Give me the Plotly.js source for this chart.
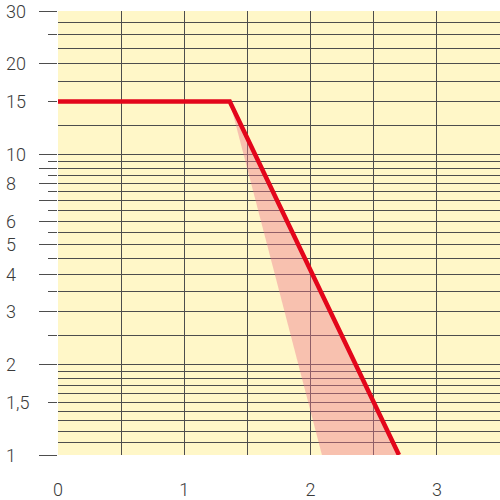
<!DOCTYPE html>
<html>
<head>
<meta charset="utf-8">
<script src="https://cdn.plot.ly/plotly-3.0.1.min.js"></script>
<style>html,body{margin:0;padding:0;background:#fff;}#chart{width:500px;height:500px;}</style>
</head>
<body>
<div id="chart"></div>
<script>
// ---- data ----
const lineX = [0, 1.36, 2.7];
const lineY = [15, 15, 1];
const bandX = [1.36, 2.09, 2.7];
const bandY = [15, 1, 1];

const xGridVals = [0, 0.5, 1, 1.5, 2, 2.5, 3, 3.5];
const xTickText = ['0', '', '1', '', '2', '', '3', ''];

const yGridVals = [1, 1.1, 1.2, 1.3, 1.4, 1.5, 1.6, 1.7, 1.8, 1.9, 2, 2.5, 3, 3.5, 4, 4.5, 5, 5.5, 6, 6.5, 7, 7.5, 8, 8.5, 9, 9.5, 10, 12.5, 15, 17.5, 20, 22.5, 25, 27.5, 30];
const yLongTicks = [1, 2, 3, 4, 5, 6, 7, 8, 9, 10, 20, 30];
const yShortTicks = [1.5, 2.5, 3.5, 4.5, 5.5, 6.5, 7.5, 8.5, 9.5, 15, 25];
const yLabelVals = [1, 1.5, 2, 3, 4, 5, 6, 8, 10, 15, 20, 30];
const yLabelText = ['1', '1,5', '2', '3', '4', '5', '6', '8', '10', '15', '20', '30'];

// ---- style ----
const gridColor = '#4d4d4d';
const textColor = '#3a3a3a';
const fontFam = 'Roboto, "Liberation Sans", Arial, sans-serif';

const traces = [
  {
    x: bandX, y: bandY, type: 'scatter', mode: 'lines',
    fill: 'toself', fillcolor: 'rgba(238,120,140,0.42)',
    line: {width: 0}, hoverinfo: 'skip', xaxis: 'x', yaxis: 'y'
  },
  {
    x: lineX, y: lineY, type: 'scatter', mode: 'lines',
    line: {color: '#e3061b', width: 4.5}, hoverinfo: 'skip', xaxis: 'x', yaxis: 'y2'
  }
];

const yRange = [Math.log10(yGridVals[0]), Math.log10(yGridVals[yGridVals.length - 1])];

const annotations = yLabelVals.map((v, i) => ({
  xref: 'paper', yref: 'y', x: 0, y: Math.log10(v),
  xanchor: 'left', yanchor: 'middle', xshift: -54,
  text: yLabelText[i], showarrow: false,
  font: {family: fontFam, size: 18, color: textColor, weight: 300}
}));

const layout = {
  width: 500, height: 500,
  margin: {l: 58, r: 0, t: 11, b: 45, pad: 0},
  paper_bgcolor: '#ffffff',
  plot_bgcolor: '#fff7c8',
  showlegend: false,
  font: {family: fontFam, size: 18, color: textColor, weight: 300},
  xaxis: {
    range: [xGridVals[0], xGridVals[xGridVals.length - 1]],
    tickmode: 'array', tickvals: xGridVals, ticktext: xTickText,
    showgrid: true, gridcolor: gridColor, gridwidth: 1,
    zeroline: false, showline: false, ticks: '',
    ticklabelstandoff: 22,
    tickfont: {family: fontFam, size: 18, color: textColor, weight: 300},
    fixedrange: true
  },
  yaxis: {
    type: 'log', range: yRange,
    tickmode: 'array', tickvals: yGridVals,
    showticklabels: false, ticks: '',
    showgrid: true, gridcolor: gridColor, gridwidth: 1,
    zeroline: false, showline: false, fixedrange: true
  },
  yaxis2: {
    type: 'log', range: yRange, overlaying: 'y', side: 'left',
    tickmode: 'array', tickvals: yLongTicks,
    ticks: 'outside', ticklen: 18, tickwidth: 1, tickcolor: gridColor,
    showticklabels: false, showgrid: false, zeroline: false, showline: false,
    minor: {tickmode: 'array', tickvals: yShortTicks, ticks: 'outside', ticklen: 9, tickwidth: 1, tickcolor: gridColor, showgrid: false},
    fixedrange: true
  },
  annotations: annotations
};

Plotly.newPlot('chart', traces, layout, {staticPlot: true, displayModeBar: false});
</script>
</body>
</html>
